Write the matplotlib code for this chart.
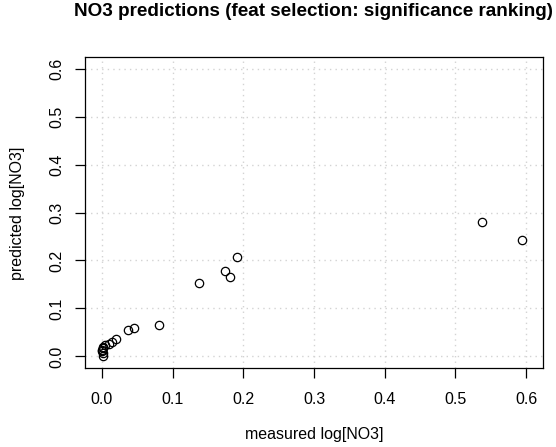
import matplotlib
matplotlib.use("Agg")
import matplotlib.pyplot as plt

plt.rcParams['font.family'] = ['Liberation Sans', 'DejaVu Sans']

# measured vs predicted log[NO3]
measured = [0.594, 0.537, 0.191, 0.174, 0.181, 0.137, 0.081, 0.045, 0.037,
            0.020, 0.014, 0.010, 0.005, 0.002, 0.001, 0.000, 0.000, 0.001, 0.002]
predicted = [0.242, 0.281, 0.208, 0.179, 0.165, 0.153, 0.065, 0.060, 0.055,
             0.037, 0.030, 0.027, 0.023, 0.019, 0.017, 0.014, 0.011, 0.008, 0.001]
ticks = [0.0, 0.1, 0.2, 0.3, 0.4, 0.5, 0.6]

fig = plt.figure(figsize=(5.56, 4.47), dpi=100)
ax = fig.add_axes([85 / 556, 79 / 447, 458 / 556, 311 / 447])

# R-style dotted grid
for t in ticks:
    ax.axvline(t, color='#d3d3d3', linestyle=(0, (1, 3)), linewidth=1.0, zorder=0)
    ax.axhline(t, color='#d3d3d3', linestyle=(0, (1, 3)), linewidth=1.0, zorder=0)

ax.plot(measured, predicted, 'o', markerfacecolor='none', markeredgecolor='black',
        markersize=6, markeredgewidth=0.9, zorder=3)

ax.set_xlim(-0.024, 0.624)
ax.set_ylim(-0.024, 0.624)
ax.set_xticks(ticks)
ax.set_yticks(ticks)
ax.set_xticklabels(['%.1f' % t for t in ticks], fontsize=11.5)
ax.set_yticklabels(['%.1f' % t for t in ticks], fontsize=11.5, rotation=90, va='center')
ax.tick_params(direction='out', length=7.2, width=0.9)
ax.tick_params(axis='x', pad=10)
ax.tick_params(axis='y', pad=8)
for s in ax.spines.values():
    s.set_linewidth(0.9)

fig.text(314 / 556, 1 - 435 / 447, 'measured log[NO3]', fontsize=11.5,
         ha='center', va='center')
fig.text(18 / 556, 1 - 213 / 447, 'predicted log[NO3]', fontsize=11.5,
         ha='center', va='center', rotation=90)
fig.text(314 / 556, 1 - 12 / 447, 'NO3 predictions (feat selection: significance ranking)',
         fontsize=13.6, fontweight='bold', ha='center', va='center')

fig.savefig('out.png', dpi=100)
